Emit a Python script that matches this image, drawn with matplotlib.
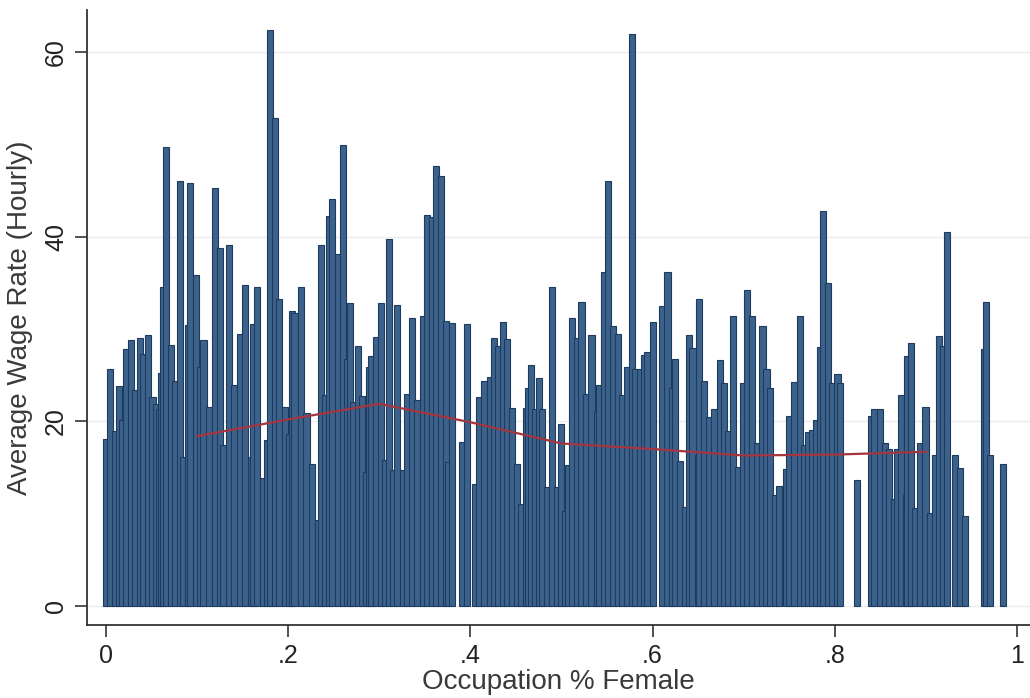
import numpy as np
import matplotlib
matplotlib.use("Agg")
import matplotlib.pyplot as plt

plt.rcParams['font.family'] = ['Liberation Sans', 'DejaVu Sans']

# occupation share female (bar positions) and average hourly wage
pct_female = [
    0.000, 0.0047, 0.0099, 0.0139, 0.018, 0.0223, 0.0278, 0.0318, 0.037, 0.041,
    0.046, 0.051, 0.055, 0.058, 0.061, 0.063, 0.066, 0.071, 0.0757, 0.081,
    0.085, 0.090, 0.092, 0.0988, 0.103, 0.107, 0.1127, 0.1196, 0.1248, 0.129,
    0.135, 0.1405, 0.1467, 0.153, 0.1588, 0.1617, 0.166, 0.1723, 0.1767, 0.180,
    0.1859, 0.190, 0.1965, 0.201, 0.204, 0.207, 0.214, 0.220,
    0.2258, 0.2324, 0.2357, 0.240, 0.2448, 0.2484, 0.2543, 0.260, 0.2649, 0.2678,
    0.2708, 0.277, 0.281, 0.2858, 0.2887, 0.2909, 0.296, 0.3019, 0.3066, 0.311,
    0.3147, 0.3198, 0.326, 0.330, 0.3355, 0.3414, 0.348, 0.3524, 0.3575, 0.3626,
    0.3677, 0.3728, 0.375, 0.380, 0.3904, 0.3963, 0.4047, 0.410, 0.4153, 0.4219,
    0.4259, 0.4307, 0.4362, 0.4405, 0.4457, 0.4508,
    0.456, 0.4607, 0.4636, 0.4665, 0.471, 0.4757, 0.479, 0.4846, 0.490, 0.495,
    0.4998, 0.5035, 0.507, 0.5112, 0.5166, 0.522, 0.527, 0.533, 0.5387, 0.541,
    0.5467, 0.5514, 0.5565, 0.5624, 0.567, 0.5719, 0.577, 0.5807, 0.5862, 0.5906,
    0.5944, 0.6008, 0.6103, 0.6164, 0.621, 0.6246, 0.6304, 0.6356, 0.6403, 0.6438,
    0.6502, 0.6513, 0.6564, 0.662, 0.6674, 0.6737, 0.6784, 0.6828,
    0.6886, 0.6937, 0.6992, 0.704, 0.7088, 0.7143, 0.7206, 0.725, 0.7289, 0.7344,
    0.739, 0.7466, 0.7497, 0.7558, 0.7615, 0.7665, 0.7706, 0.7746, 0.7795, 0.7834,
    0.7874, 0.7929, 0.7975, 0.803, 0.806, 0.824, 0.8401, 0.8436, 0.8496, 0.855,
    0.8595, 0.8648, 0.8688, 0.8729, 0.878, 0.8798, 0.8836, 0.8884, 0.8932, 0.8996,
    0.905, 0.9096, 0.9142, 0.919, 0.9232, 0.9323, 0.9374, 0.9426, 0.9638, 0.9663,
    0.9705, 0.9844,
]
wage = [
    18.1, 25.7, 19.0, 23.8, 20.1, 27.8, 28.8, 23.4, 29.0, 27.3,
    29.3, 22.6, 21.9, 21.3, 25.2, 34.6, 49.7, 28.3, 24.4, 46.0,
    16.1, 30.4, 45.8, 35.8, 25.9, 28.8, 21.5, 45.3, 38.8, 17.4,
    39.1, 23.9, 29.5, 34.8, 16.1, 30.5, 34.6, 13.9, 18.0, 62.4,
    52.8, 33.3, 21.5, 18.6, 32.0, 31.7, 34.6, 20.9,
    15.4, 9.3, 39.1, 22.8, 42.2, 44.1, 38.1, 49.9, 26.8, 32.8,
    22.1, 28.2, 22.7, 14.5, 25.9, 27.1, 29.1, 32.8, 15.8, 39.8,
    14.7, 32.6, 14.7, 23.0, 31.2, 22.3, 31.4, 42.4, 42.1, 47.7,
    46.6, 30.9, 15.6, 30.7, 17.8, 30.5, 13.2, 22.6, 24.4, 24.8,
    29.0, 28.2, 30.8, 28.9, 21.4, 15.4,
    11.0, 21.4, 23.6, 26.1, 21.3, 24.7, 21.3, 12.9, 34.6, 12.9,
    19.7, 10.3, 15.3, 31.2, 29.0, 32.9, 23.0, 29.3, 21.1, 23.9,
    36.2, 46.0, 30.3, 29.5, 22.8, 25.9, 61.9, 25.7, 25.7, 27.2,
    27.5, 30.8, 32.5, 36.2, 23.6, 26.8, 15.7, 10.7, 29.4, 27.9,
    16.3, 33.3, 24.4, 20.5, 21.3, 26.6, 24.1, 19.0,
    31.4, 15.1, 24.1, 34.2, 31.4, 17.6, 30.3, 25.7, 23.6, 12.0,
    13.0, 14.8, 20.6, 24.3, 31.4, 17.4, 18.8, 19.1, 20.1, 28.1,
    42.8, 35.0, 24.1, 25.1, 24.2, 13.7, 20.6, 21.3, 21.3, 17.6,
    17.0, 11.6, 17.0, 22.8, 12.0, 27.1, 28.5, 10.6, 17.6, 21.5,
    10.1, 16.3, 29.2, 28.2, 40.5, 16.3, 14.9, 9.7, 27.8, 32.9,
    16.3, 15.4,
]

# smoothed wage line
fit_x = [0.1, 0.2, 0.3, 0.4, 0.5, 0.6, 0.7, 0.8, 0.9]
fit_y = [18.4, 20.2, 21.9, 19.9, 17.6, 17.0, 16.3, 16.4, 16.7]

W, H = 1030, 698
fig = plt.figure(figsize=(W / 100, H / 100), dpi=100)
fig.patch.set_facecolor('white')

# plot region in pixels: left spine 87, bottom spine 625, top 10
ax = fig.add_axes([87 / W, (H - 625) / H, 1 - 87 / W, (625 - 10) / H])

x0, px_per_x = 106, 911.0
y0, px_per_y = 606, 554 / 60.0
ax.set_xlim((87 - x0) / px_per_x, (W - x0) / px_per_x)
ax.set_ylim((y0 - 625) / px_per_y, (y0 - 10) / px_per_y)

yticks = [0, 20, 40, 60]
for yt in yticks:
    ax.axhline(yt, color='#ececec', lw=1.0, zorder=0)

ax.bar(pct_female, wage, width=0.0068, color='#3c628c', edgecolor='#1c3b5f',
       linewidth=0.8, zorder=2)
ax.plot(fit_x, fit_y, color='#a5353e', lw=1.6, zorder=3)

for side in ['top', 'right']:
    ax.spines[side].set_visible(False)
for side in ['left', 'bottom']:
    ax.spines[side].set_color('#333333')
    ax.spines[side].set_linewidth(1.3)

ax.set_xticks([0, 0.2, 0.4, 0.6, 0.8, 1.0])
ax.set_xticklabels(['0', '.2', '.4', '.6', '.8', '1'])
ax.set_yticks(yticks)
ax.set_yticklabels(['0', '20', '40', '60'], rotation=90, va='center')
ax.tick_params(axis='both', direction='out', length=8.5, width=1.2,
               color='#333333', labelsize=18, labelcolor='#222222', pad=5)

ax.set_xlabel('Occupation % Female', fontsize=20, color='#3a3a3a', labelpad=1)
ax.set_ylabel('Average Wage Rate (Hourly)', fontsize=20, color='#3a3a3a', labelpad=8)

fig.savefig('out.png', dpi=100, facecolor='white')
